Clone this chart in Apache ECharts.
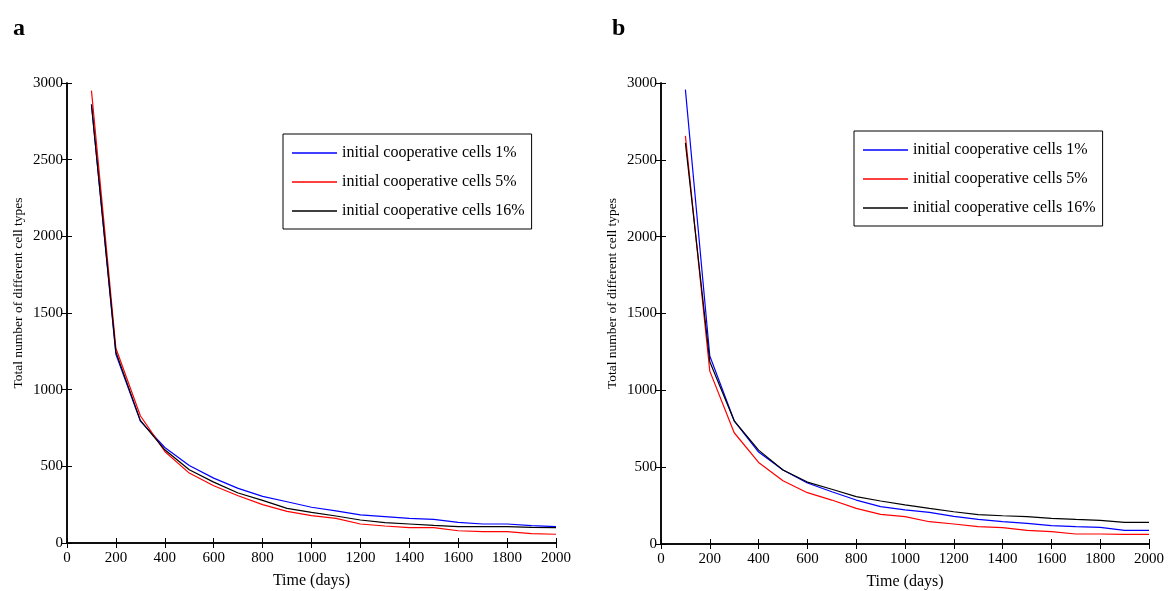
<!DOCTYPE html>
<html><head><meta charset="utf-8">
<script src="https://cdn.jsdelivr.net/npm/echarts@6/dist/echarts.min.js"></script>
<style>html,body{margin:0;padding:0;background:#fff}#c{width:1168px;height:591px}</style>
</head><body><div id="c"></div>
<script>
const days = [100,200,300,400,500,600,700,800,900,1000,1100,1200,1300,1400,1500,1600,1700,1800,1900,2000];
const seriesNames = ['initial cooperative cells 1%','initial cooperative cells 5%','initial cooperative cells 16%'];
// Panel a
const a1 = [2860,1230,795,623,506,423,356,304,269,233,209,183,172,161,154,135,124,124,113,107];
const a5 = [2950,1270,830,597,456,373,308,250,206,178,161,124,111,100,100,80,74,74,61,57];
const a16 = [2860,1245,800,608,478,397,326,278,226,200,176,150,133,124,115,107,107,107,102,100];
// Panel b
const b1 = [2957,1223,802,598,481,397,340,286,243,222,206,180,160,145,134,119,113,108,89,89];
const b5 = [2656,1125,724,531,412,334,286,232,193,178,145,130,113,106,89,80,65,65,63,63];
const b16 = [2610,1186,802,611,481,403,356,308,280,255,232,210,191,184,178,167,160,154,141,141];
const xTicks = {min:0,max:2000,interval:200};
const yTicks = {min:0,max:3000,interval:500};
const colors = ['#0000ff','#ff0000','#000000'];

const FONT = 'Liberation Serif';
const pair = arr => days.map((d,i)=>[d,arr[i]]);
const plain = v => String(v);

const grids = [
  {left:67, top:83, width:489, height:460, outerBoundsMode:'none', containLabel:false},
  {left:661, top:83, width:488, height:461, outerBoundsMode:'none', containLabel:false}
];
const xAxes = [], yAxes = [];
grids.forEach((g,gi)=>{
  xAxes.push({type:'value', gridIndex:gi, ...xTicks, name:'Time (days)', nameLocation:'middle', nameGap:30,
    nameTextStyle:{fontFamily:FONT,fontSize:16,color:'#000'},
    axisLine:{show:true,lineStyle:{color:'#000',width:1.5}},
    axisTick:{show:true,inside:true,length:5,lineStyle:{color:'#000'}},
    axisLabel:{fontFamily:FONT,fontSize:15,color:'#000',margin:8,formatter:plain},
    splitLine:{show:false}});
  xAxes.push({type:'value', gridIndex:gi, position:'top', ...xTicks,
    axisLine:{show:true,lineStyle:{color:'#000',width:1.5}},
    axisTick:{show:true,inside:true,length:5,lineStyle:{color:'#000'}},
    axisLabel:{show:false}, splitLine:{show:false}});
  yAxes.push({type:'value', gridIndex:gi, ...yTicks, name:'Total number of different cell types', nameLocation:'middle', nameGap:42,
    nameTextStyle:{fontFamily:FONT,fontSize:13.5,color:'#000',padding:[0,0,0,40]},
    axisLine:{show:true,lineStyle:{color:'#000',width:1.5}},
    axisTick:{show:true,inside:true,length:5,lineStyle:{color:'#000'}},
    axisLabel:{fontFamily:FONT,fontSize:15,color:'#000',margin:4,formatter:plain},
    splitLine:{show:false}});
  yAxes.push({type:'value', gridIndex:gi, position:'right', ...yTicks,
    axisLine:{show:true,lineStyle:{color:'#000',width:1.5}},
    axisTick:{show:true,inside:true,length:5,lineStyle:{color:'#000'}},
    axisLabel:{show:false}, splitLine:{show:false}});
});

const panels = [[a1,a5,a16],[b1,b5,b16]];
const series = [];
panels.forEach((p,gi)=>{
  p.forEach((arr,si)=>{
    series.push({type:'line', name:seriesNames[si], xAxisIndex:gi*2, yAxisIndex:gi*2,
      data:pair(arr), symbol:'none', showSymbol:false, animation:false,
      lineStyle:{color:colors[si],width:1.2}, itemStyle:{color:colors[si]}});
  });
});

const legendBase = {orient:'vertical', data:seriesNames, icon:'rect', itemWidth:45, itemHeight:1.5,
  borderColor:'#000', borderWidth:1, borderRadius:0, backgroundColor:'#fff',
  padding:[9,7,8,9], itemGap:9, selectedMode:false,
  textStyle:{fontFamily:FONT,fontSize:16,color:'#000',lineHeight:20}};

const chart = echarts.init(document.getElementById('c'));
chart.setOption({
  animation:false,
  title:[
    {text:'a', left:8, top:12, textStyle:{fontFamily:FONT,fontSize:24,fontWeight:'bold',color:'#000'}},
    {text:'b', left:607, top:12, textStyle:{fontFamily:FONT,fontSize:24,fontWeight:'bold',color:'#000'}}
  ],
  grid:grids,
  xAxis:xAxes,
  yAxis:yAxes,
  legend:[
    {...legendBase, left:283, top:134},
    {...legendBase, left:854, top:131}
  ],
  series:series
});
</script></body></html>
